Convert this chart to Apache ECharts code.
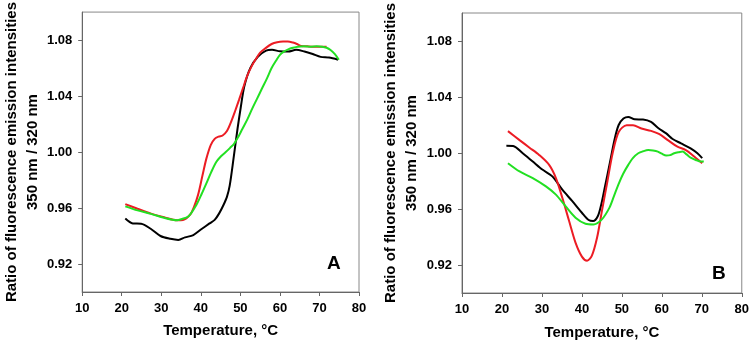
<!DOCTYPE html>
<html>
<head>
<meta charset="utf-8">
<script src="https://cdn.jsdelivr.net/npm/echarts@6/dist/echarts.min.js"></script>
<style>
html, body { margin: 0; padding: 0; background: #fff; }
#chart { width: 752px; height: 345px; }
</style>
</head>
<body>
<div id="chart"></div>
<script>
// panel A
var tempA_black = [20.9, 22.8, 24.9, 27.4, 29.8, 32.3, 34.3, 36.0, 38.1, 40.2, 42.2, 43.5, 44.6, 45.7, 46.6, 47.3, 48.3, 49.3, 50.1, 51.0, 52.5, 54.4, 56.5, 58.0, 60.0, 62.1, 64.1, 66.2, 68.3, 70.3, 72.4, 74.7];
var ratioA_black = [0.9525, 0.9490, 0.9488, 0.9450, 0.9400, 0.9380, 0.9372, 0.9390, 0.9407, 0.9450, 0.9490, 0.9515, 0.9560, 0.9620, 0.9680, 0.9760, 0.9960, 1.0170, 1.0320, 1.0470, 1.0600, 1.0680, 1.0725, 1.0730, 1.0720, 1.0718, 1.0730, 1.0718, 1.0700, 1.0680, 1.0675, 1.0660];

var tempA_red = [20.9, 24.0, 27.4, 30.7, 34.0, 35.5, 37.3, 38.3, 39.3, 40.4, 41.4, 42.5, 43.5, 44.5, 45.5, 46.6, 47.6, 48.7, 49.7, 50.7, 51.7, 52.8, 53.8, 55.0, 56.3, 57.9, 59.3, 60.8, 62.0, 63.3, 64.3, 65.4, 67.0, 68.7, 70.3, 71.8];
var ratioA_red = [0.9628, 0.9595, 0.9560, 0.9534, 0.9513, 0.9515, 0.9553, 0.9610, 0.9694, 0.9830, 0.9953, 1.0050, 1.0094, 1.0110, 1.0118, 1.0150, 1.0212, 1.0295, 1.0376, 1.0460, 1.0542, 1.0610, 1.0659, 1.0710, 1.0741, 1.0772, 1.0785, 1.0789, 1.0789, 1.0782, 1.0772, 1.0758, 1.0755, 1.0753, 1.0753, 1.0753];

var tempA_green = [20.9, 24.0, 27.4, 30.7, 34.0, 34.8, 36.9, 38.9, 40.2, 41.4, 42.6, 43.9, 45.1, 46.3, 47.4, 48.4, 49.5, 50.5, 51.8, 53.0, 54.2, 55.4, 56.7, 57.9, 59.0, 60.0, 61.0, 62.1, 63.3, 64.5, 66.0, 67.8, 69.3, 70.7, 71.8, 72.8, 73.9, 74.9];
var ratioA_green = [0.9612, 0.9583, 0.9558, 0.9530, 0.9513, 0.9518, 0.9541, 0.9624, 0.9700, 0.9776, 0.9855, 0.9929, 0.9970, 1.0000, 1.0030, 1.0059, 1.0110, 1.0165, 1.0235, 1.0310, 1.0380, 1.0450, 1.0525, 1.0600, 1.0652, 1.0694, 1.0718, 1.0734, 1.0745, 1.0753, 1.0755, 1.0753, 1.0755, 1.0753, 1.0745, 1.0729, 1.0700, 1.0659];

// panel B
var tempB_black = [21.1, 22.8, 25.2, 27.7, 30.2, 32.6, 35.1, 37.6, 40.0, 41.7, 42.8, 44.0, 44.9, 45.7, 47.0, 48.2, 49.2, 50.4, 51.6, 53.2, 55.3, 57.3, 59.0, 61.1, 62.7, 64.8, 67.2, 68.9, 70.1];
var ratioB_black = [1.0052, 1.0050, 0.9998, 0.9939, 0.9880, 0.9833, 0.9738, 0.9656, 0.9573, 0.9521, 0.9514, 0.9550, 0.9640, 0.9750, 0.9930, 1.0100, 1.0200, 1.0246, 1.0258, 1.0241, 1.0239, 1.0222, 1.0180, 1.0140, 1.0100, 1.0069, 1.0033, 0.9998, 0.9963];

var tempB_red = [21.5, 24.4, 26.9, 29.3, 31.8, 33.5, 35.1, 36.8, 38.4, 40.0, 41.3, 42.5, 43.8, 45.0, 46.4, 47.7, 49.2, 51.2, 52.8, 54.9, 57.3, 59.4, 61.5, 63.9, 66.0, 68.1, 70.1];
var ratioB_red = [1.0156, 1.0092, 1.0038, 0.9986, 0.9915, 0.9821, 0.9680, 0.9514, 0.9360, 0.9260, 0.9231, 0.9267, 0.9396, 0.9585, 0.9800, 1.0000, 1.0150, 1.0198, 1.0198, 1.0175, 1.0158, 1.0134, 1.0092, 1.0045, 1.0021, 0.9975, 0.9927];

var tempB_green = [21.5, 24.4, 27.7, 31.0, 33.5, 35.9, 38.4, 40.9, 42.9, 45.0, 46.9, 48.0, 49.1, 50.3, 51.6, 52.8, 54.1, 55.3, 56.6, 57.8, 59.0, 60.0, 61.1, 62.1, 63.1, 64.1, 65.2, 66.2, 67.2, 68.5, 69.7, 70.5];
var ratioB_green = [0.9927, 0.9868, 0.9821, 0.9762, 0.9703, 0.9620, 0.9538, 0.9495, 0.9490, 0.9526, 0.9610, 0.9690, 0.9773, 0.9850, 0.9915, 0.9965, 0.9998, 1.0012, 1.0021, 1.0018, 1.0010, 0.9995, 0.9982, 0.9985, 0.9998, 1.0005, 1.0010, 0.9990, 0.9967, 0.9950, 0.9939, 0.9939];

var yTicks = [0.92, 0.96, 1.00, 1.04, 1.08];
var xTicks = [10, 20, 30, 40, 50, 60, 70, 80];
var panelLabels = ['A', 'B'];

var font = 'Liberation Sans, Arial, sans-serif';

function zip(xs, ys) {
	var out = [];
	for (var i = 0; i < xs.length; i++) out.push([xs[i], ys[i]]);
	return out;
}

function makeX(idx, gap) {
	return {
		type: 'value', gridIndex: idx,
		min: xTicks[0], max: xTicks[xTicks.length - 1], interval: 10,
		name: 'Temperature, °C', nameLocation: 'middle', nameGap: gap,
		nameTextStyle: { fontFamily: font, fontWeight: 'bold', fontSize: 15, color: '#000' },
		axisLine: { show: true, onZero: false, lineStyle: { color: '#666', width: 1 } },
		axisTick: { show: true, inside: false, length: 4, lineStyle: { color: '#666' } },
		axisLabel: { fontFamily: font, fontWeight: 'bold', fontSize: 13, color: '#000', margin: 10 },
		splitLine: { show: false }
	};
}

function makeY(idx, gap) {
	return {
		type: 'value', gridIndex: idx,
		min: 0.90, max: 1.10,
		name: 'Ratio of fluorescence emission intensities\n350 nm / 320 nm',
		nameLocation: 'middle', nameRotate: 90, nameGap: gap,
		nameTextStyle: { fontFamily: font, fontWeight: 'bold', fontSize: 15, lineHeight: 21, color: '#000', align: 'center' },
		axisLine: { show: true, onZero: false, lineStyle: { color: '#666', width: 1 } },
		axisTick: { show: true, inside: false, length: 4, customValues: yTicks, lineStyle: { color: '#666' } },
		axisLabel: {
			fontFamily: font, fontWeight: 'bold', fontSize: 13, color: '#000', margin: 10,
			customValues: yTicks,
			formatter: function (v) { return v.toFixed(2); }
		},
		splitLine: { show: false }
	};
}

function line(name, data, color, idx) {
	return {
		name: name, type: 'line', xAxisIndex: idx, yAxisIndex: idx,
		data: data, showSymbol: false, symbol: 'none',
		smooth: 0.3,
		lineStyle: { color: color, width: 2 },
		itemStyle: { color: color },
		animation: false
	};
}

var red = '#ec1c24';
var green = '#22e022';

var option = {
	backgroundColor: '#fff',
	animation: false,
	grid: [
		{ left: 76, top: 9, width: 283, height: 283, show: true, borderColor: '#888', borderWidth: 1, backgroundColor: 'transparent' },
		{ left: 462, top: 13, width: 283, height: 282, show: true, borderColor: '#888', borderWidth: 1, backgroundColor: 'transparent' }
	],
	xAxis: [makeX(0, 31), makeX(1, 32)],
	yAxis: [makeY(0, 34), makeY(1, 36)],
	graphic: [
		{ type: 'text', left: 327, top: 254, style: { text: panelLabels[0], font: 'bold 19px ' + font, fill: '#000' } },
		{ type: 'text', left: 712, top: 264, style: { text: panelLabels[1], font: 'bold 19px ' + font, fill: '#000' } }
	],
	series: [
		line('A black', zip(tempA_black, ratioA_black), '#000', 0),
		line('A red', zip(tempA_red, ratioA_red), red, 0),
		line('A green', zip(tempA_green, ratioA_green), green, 0),
		line('B black', zip(tempB_black, ratioB_black), '#000', 1),
		line('B red', zip(tempB_red, ratioB_red), red, 1),
		line('B green', zip(tempB_green, ratioB_green), green, 1)
	]
};

var chart = echarts.init(document.getElementById('chart'), null, { renderer: 'canvas' });
chart.setOption(option);
</script>
</body>
</html>
